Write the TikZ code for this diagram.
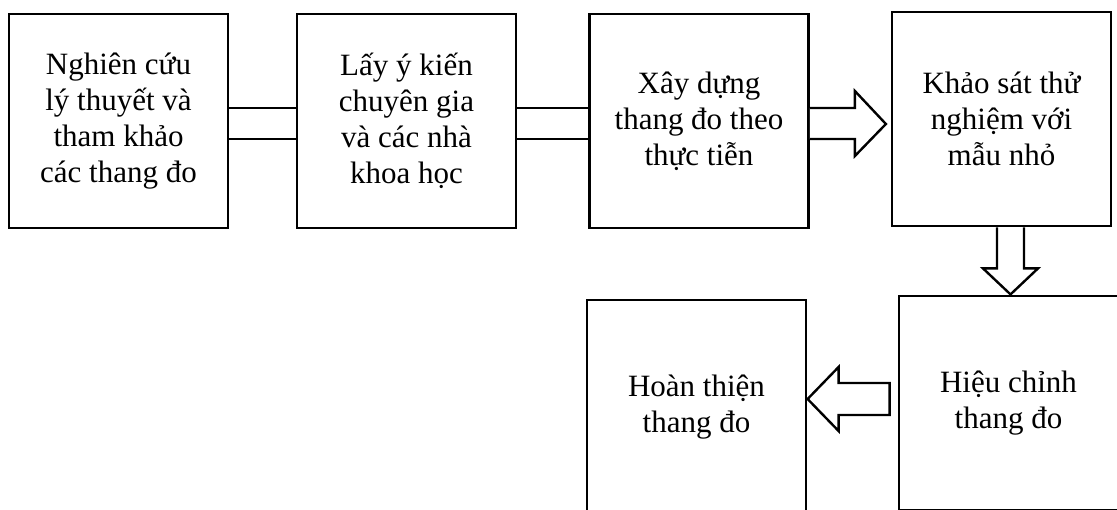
\documentclass[tikz,border=0pt]{standalone}
\usepackage{fontspec}
\setmainfont{Liberation Serif}
\usetikzlibrary{calc}
\begin{document}
\begin{tikzpicture}[x=1pt,y=-1pt,
  stagebox/.style={draw=black,line width=2.8pt,rectangle,inner sep=0pt,
    minimum width=219pt,minimum height=214pt,align=center,
    font=\fontsize{31}{36}\selectfont},
  link/.style={line width=2.8pt},
  blockarrow/.style={draw=black,line width=2.4pt,fill=white,line join=miter}]
\clip (0,0) rectangle (1117,509);
\fill[white] (0,0) rectangle (1117,509);

\node[stagebox] (b1) at (118.5,121) {Nghiên cứu\\lý thuyết và\\tham khảo\\các thang đo};
\node[stagebox] (b2) at (406.5,121) {Lấy ý kiến\\chuyên gia\\và các nhà\\khoa học};
\node[stagebox] (b3) at (699,121) {Xây dựng\\thang đo theo\\thực tiễn};
\node[stagebox] (b4) at (1001.5,119) {Khảo sát thử\\nghiệm với\\mẫu nhỏ};
\node[stagebox] (b5) at (1008.5,403) {Hiệu chỉnh\\thang đo};
\node[stagebox] (b6) at (696.5,407) {Hoàn thiện\\thang đo};

% double-line links
\draw[link] ($(b1.east)+(0,-13)$) -- ($(b2.west)+(0,-13)$);
\draw[link] ($(b1.east)+(0,18)$) -- ($(b2.west)+(0,18)$);
\draw[link] ($(b2.east)+(0,-13)$) -- ($(b3.west)+(0,-13)$);
\draw[link] ($(b2.east)+(0,18)$) -- ($(b3.west)+(0,18)$);

% block arrow b3 -> b4
\draw[blockarrow] ($(b3.east)+(0,-13)$) -- ($(b3.east)+(45,-13)$)
  -- ($(b3.east)+(45,-30)$) -- ($(b3.east)+(76,3)$)
  -- ($(b3.east)+(45,35)$) -- ($(b3.east)+(45,18)$) -- ($(b3.east)+(0,18)$);

% block arrow b4 -> b5
\draw[blockarrow] ($(b4.south)+(-4.5,0)$) -- ($(b4.south)+(-4.5,41)$)
  -- ($(b4.south)+(-18.5,41)$) -- ($(b4.south)+(9,67)$)
  -- ($(b4.south)+(36.5,41)$) -- ($(b4.south)+(22.5,41)$) -- ($(b4.south)+(22.5,0)$);

% block arrow b5 -> b6
\draw[blockarrow] ($(b5.west)+(-8,-20)$) -- ($(b5.west)+(-59,-20)$)
  -- ($(b5.west)+(-59,-36)$) -- ($(b5.west)+(-90,-4)$)
  -- ($(b5.west)+(-59,28)$) -- ($(b5.west)+(-59,12)$)
  -- ($(b5.west)+(-8,12)$) -- cycle;
\end{tikzpicture}
\end{document}
